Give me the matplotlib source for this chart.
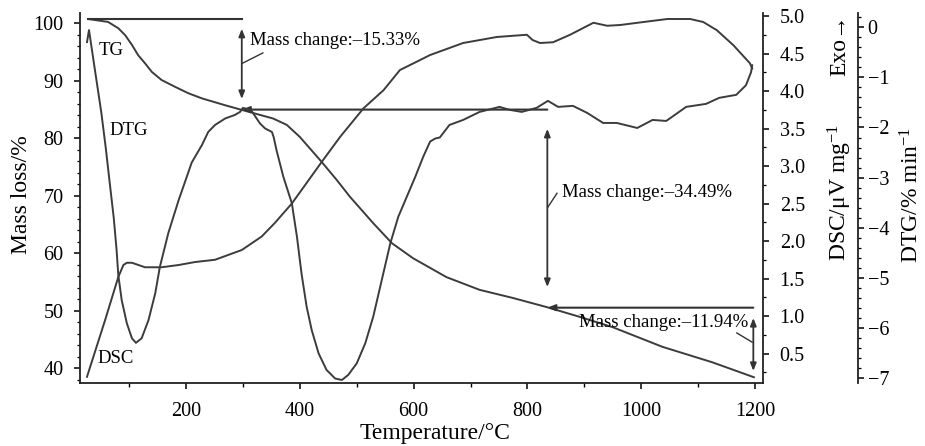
import matplotlib
matplotlib.use('Agg')
import matplotlib.pyplot as plt
from matplotlib.ticker import MultipleLocator, FormatStrFormatter

plt.rcParams['font.family'] = ['Liberation Serif', 'DejaVu Serif']
plt.rcParams['mathtext.fontset'] = 'custom'
plt.rcParams['mathtext.rm'] = 'Liberation Serif'
plt.rcParams['mathtext.it'] = 'Liberation Serif:italic'
plt.rcParams['axes.unicode_minus'] = True

# ---------------- data ----------------
tg_temp = [28, 63, 81, 93, 105, 116, 128, 140, 157, 181, 204, 228, 269, 298,
           353, 377, 400, 438, 465, 488, 529, 562, 599, 658, 716, 774, 834,
           892, 950, 1037, 1125, 1198]
tg_mass = [100.7, 100.2, 99.1, 97.9, 96.2, 94.4, 93.0, 91.5, 90.1, 88.9, 87.8,
           86.9, 85.7, 84.9, 83.4, 82.3, 80.2, 75.9, 72.7, 69.8, 65.2, 61.7,
           59.1, 55.8, 53.6, 52.2, 50.6, 48.9, 47.1, 43.7, 41.0, 38.4]

dsc_temp = [26, 34, 58, 81, 90, 96, 105, 128, 157, 187, 216, 251, 298, 333,
            356, 386, 439, 471, 512, 547, 576, 600, 629, 687, 746, 799, 809,
            822, 845, 875, 898, 916, 940, 963, 1004, 1046, 1086, 1109, 1133,
            1162, 1191, 1195]
dsc_val = [0.19, 0.38, 0.95, 1.52, 1.68, 1.71, 1.71, 1.65, 1.65, 1.68, 1.72,
           1.75, 1.88, 2.06, 2.24, 2.50, 3.06, 3.39, 3.77, 4.01, 4.28, 4.37,
           4.48, 4.64, 4.72, 4.75, 4.68, 4.64, 4.65, 4.75, 4.84, 4.91, 4.87,
           4.88, 4.92, 4.96, 4.96, 4.92, 4.81, 4.61, 4.37, 4.30]

dtg_temp = [26, 29.5, 40, 51, 59, 66, 73, 78, 81, 87, 96, 105, 112, 122, 134,
            146, 154, 169, 187, 210, 228, 239, 251, 269, 286, 295, 300, 314,
            330, 339, 351, 354, 359, 371, 386, 395, 403, 412, 421, 433, 447,
            462, 474, 485, 500, 515, 529, 544, 559, 573, 588, 603, 617, 629,
            638, 646, 663, 687, 716, 751, 769, 790, 816, 836, 854, 880, 905,
            933, 957, 993, 1020, 1044, 1079, 1114, 1137, 1167, 1184, 1193,
            1195]
dtg_val = [-0.30, -0.06, -0.86, -1.69, -2.41, -3.11, -3.80, -4.44, -4.94,
           -5.44, -5.90, -6.20, -6.29, -6.20, -5.84, -5.30, -4.78, -4.10,
           -3.45, -2.70, -2.35, -2.09, -1.95, -1.82, -1.75, -1.69, -1.61,
           -1.65, -1.92, -2.02, -2.09, -2.19, -2.45, -2.98, -3.51, -4.18,
           -4.91, -5.57, -6.04, -6.50, -6.83, -7.00, -7.03, -6.93, -6.70,
           -6.30, -5.77, -5.04, -4.31, -3.78, -3.38, -2.98, -2.58, -2.28,
           -2.22, -2.20, -1.95, -1.85, -1.69, -1.59, -1.65, -1.69, -1.61,
           -1.47, -1.59, -1.57, -1.71, -1.91, -1.91, -2.01, -1.85, -1.87,
           -1.59, -1.53, -1.41, -1.35, -1.16, -0.90, -0.76]

# mass-change steps (temperature, mass level) and their labels
step_temp = [28, 298, 835, 1197]
step_mass = [100.7, 84.95, 50.5, 38.5]
arrow_top = [99.0, 81.6, 48.7]
arrow_bottom = [86.8, 54.1, 39.5]
change_labels = ['Mass change:\u201315.33%', 'Mass change:\u201334.49%',
                 'Mass change:\u201311.94%']

x_ticks = [200, 400, 600, 800, 1000, 1200]

# ---------------- figure ----------------
W, H = 925, 446
fig = plt.figure(figsize=(W / 100, H / 100), dpi=100)
ax = fig.add_axes([80 / W, 1 - 383 / H, 683 / W, 370 / H])
ax_dsc = ax.twinx()
ax_dtg = ax.twinx()

line_c = '#3c3c3c'
lw = 1.4
ax.plot(tg_temp, tg_mass, color=line_c, lw=lw, solid_joinstyle='round')
ax_dsc.plot(dsc_temp, dsc_val, color=line_c, lw=lw, solid_joinstyle='round')
ax_dtg.plot(dtg_temp, dtg_val, color=line_c, lw=lw, solid_joinstyle='round')

ax.set_xlim(13.7, 1214)
ax.set_ylim(37.4, 101.75)
ax_dsc.set_ylim(0.107, 5.04)
ax_dtg.set_ylim(-7.09, 0.28)

# spines
ax.spines['top'].set_visible(False)
ax.spines['right'].set_visible(False)
for s in ['top', 'left', 'bottom']:
    ax_dsc.spines[s].set_visible(False)
    ax_dtg.spines[s].set_visible(False)
ax_dtg.spines['right'].set_position(('axes', (858 - 80) / 683))
for a in (ax, ax_dsc, ax_dtg):
    for s in a.spines.values():
        s.set_linewidth(1.3)
        s.set_color('#222222')

tick_fs = 14.5
ax.set_xticks(x_ticks)
ax.xaxis.set_minor_locator(MultipleLocator(100))
ax.yaxis.set_major_locator(MultipleLocator(10))
ax.yaxis.set_minor_locator(MultipleLocator(2))
ax.tick_params(axis='x', which='major', direction='out', length=4, width=1.1,
               labelsize=tick_fs, pad=10)
ax.tick_params(axis='x', which='minor', direction='out', length=3, width=1.0)
ax.tick_params(axis='y', which='major', direction='out', length=4, width=1.1,
               labelsize=tick_fs, pad=8)
ax.tick_params(axis='y', which='minor', direction='out', length=2, width=0.9)

ax_dsc.yaxis.set_major_locator(MultipleLocator(0.5))
ax_dsc.yaxis.set_minor_locator(MultipleLocator(0.25))
ax_dsc.yaxis.set_major_formatter(FormatStrFormatter('%.1f'))
ax_dsc.tick_params(axis='y', which='major', direction='out', length=4,
                   width=1.1, labelsize=tick_fs, pad=8)
ax_dsc.tick_params(axis='y', which='minor', direction='out', length=2,
                   width=0.9)

ax_dtg.yaxis.set_major_locator(MultipleLocator(1))
ax_dtg.yaxis.set_minor_locator(MultipleLocator(0.2))
ax_dtg.tick_params(axis='y', which='major', direction='out', length=4,
                   width=1.1, labelsize=tick_fs, pad=3)
ax_dtg.tick_params(axis='y', which='minor', direction='out', length=2,
                   width=0.9)

# axis labels
lab_fs = 17
fig.text(435 / W, 1 - 433 / H, 'Temperature/\u00b0C', ha='center',
         va='center', fontsize=lab_fs)
fig.text(22 / W, 1 - 195 / H, 'Mass loss/%', ha='center', va='center',
         rotation=90, fontsize=lab_fs)
fig.text(840 / W, 1 - 192 / H, 'DSC/\u03bcV mg$^{-1}$', ha='center',
         va='center', rotation=90, fontsize=lab_fs)
fig.text(840 / W, 1 - 45 / H, 'Exo\u2192', ha='center', va='center',
         rotation=90, fontsize=lab_fs)
fig.text(912 / W, 1 - 195 / H, 'DTG/% min$^{-1}$', ha='center',
         va='center', rotation=90, fontsize=lab_fs)

# curve labels
ann_fs = 13.5
ax.text(68, 95.3, 'TG', fontsize=ann_fs, ha='center', va='center')
ax.text(100, 81.4, 'DTG', fontsize=ann_fs, ha='center', va='center')
ax.text(77, 41.7, 'DSC', fontsize=ann_fs, ha='center', va='center')

# mass-change annotations
hl_c = '#333333'
ax.plot([step_temp[0], step_temp[1]], [step_mass[0], step_mass[0]],
        color=hl_c, lw=1.5)
for i in (1, 2):
    ax.annotate('', xy=(step_temp[i], step_mass[i]),
                xytext=(step_temp[i + 1], step_mass[i]),
                arrowprops=dict(arrowstyle='-|>,head_length=0.45,head_width=0.18',
                                color=hl_c, lw=1.5, shrinkA=0, shrinkB=0))
for i in range(3):
    ax.annotate('', xy=(step_temp[i + 1], arrow_top[i]),
                xytext=(step_temp[i + 1], arrow_bottom[i]),
                arrowprops=dict(arrowstyle='<|-|>,head_length=0.45,head_width=0.18',
                                color=hl_c, lw=1.3, shrinkA=0, shrinkB=0))

ax.text(312, 97.0, change_labels[0], fontsize=ann_fs, ha='left', va='center')
ax.text(861, 70.6, change_labels[1], fontsize=ann_fs, ha='left', va='center')
ax.text(1188, 48.0, change_labels[2], fontsize=ann_fs, ha='right',
        va='center')
ax.plot([299, 335], [93.0, 94.8], color=hl_c, lw=1.0)
ax.plot([836, 852], [68.0, 70.4], color=hl_c, lw=1.0)
ax.plot([1168, 1195], [46.1, 44.5], color=hl_c, lw=1.0)

fig.savefig('out.png', dpi=100)
